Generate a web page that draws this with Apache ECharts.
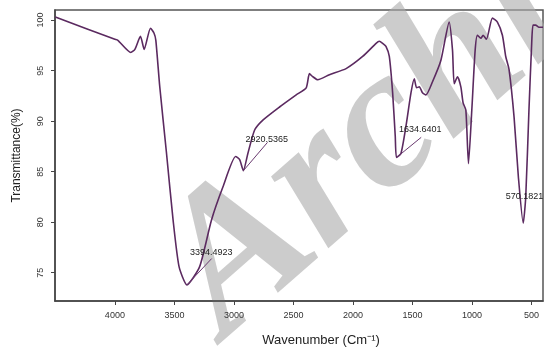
<!DOCTYPE html>
<html lang="en">

<head>
    <meta charset="UTF-8">
    <title>FTIR</title>
    <style>
        html, body { margin: 0; padding: 0; background: #fff; }
    </style>
</head>

<body>
    <div id="main" style="width: 544px; height:352px"></div>
    <script src="https://cdn.jsdelivr.net/npm/echarts@6/dist/echarts.min.js"></script>
    <script type="text/javascript">
        // spectrum: wavenumber (cm-1) / transmittance (%)
        var wavenumber = [4500, 4000, 3975, 3866, 3832, 3785, 3754, 3701, 3671, 3656, 3623, 3567, 3511, 3461,
            3394.4923, 3288, 3189, 3092, 2986, 2952, 2920.5365, 2883, 2827, 2757, 2617, 2477, 2393, 2366, 2338, 2296,
            2198, 2058, 1919, 1806, 1779, 1751, 1723, 1695, 1667, 1645, 1634.6401, 1597, 1555, 1513, 1485, 1466,
            1443, 1416, 1387, 1332, 1262, 1192, 1164, 1150, 1122, 1094, 1075, 1052, 1030, 1002, 974, 955, 926,
            907, 879, 829, 787, 745, 717, 689, 647, 611, 570.1821, 549, 522, 499, 488, 466, 438, 404];
        var transmittance = [100.3, 98.1, 98.0, 96.8, 97.1, 98.4, 97.1, 99.2, 98.7, 98.0, 93.4, 86.9, 80.2, 75.6,
            73.8, 75.6, 80.2, 83.5, 86.5, 86.2, 85.1, 86.8, 89.1, 90.1, 91.4, 92.6, 93.3, 94.7, 94.4, 94.1,
            94.6, 95.2, 96.4, 97.7, 97.9, 97.7, 97.4, 96.4, 92.8, 88.5, 86.4, 86.8, 89.5, 92.8, 94.2, 93.3,
            93.4, 92.8, 92.6, 93.9, 96.0, 99.8, 97.0, 93.7, 94.4, 93.4, 91.8, 91.1, 85.8, 91.1, 97.0, 98.5, 98.2,
            98.5, 98.1, 100.2, 99.8, 98.5, 96.4, 95.1, 90.4, 84.5, 79.9, 82.5, 91.1, 97.7, 99.5, 99.5, 99.3, 99.3];

        var xTicks = [4000, 3500, 3000, 2500, 2000, 1500, 1000, 500];
        var yTicks = [75, 80, 85, 90, 95, 100];

        // peak labels: peak point -> where the label sits
        var peakNames = ['3394.4923', '2920.5365', '1634.6401', '570.1821'];
        var peakX = [3394.4923, 2920.5365, 1634.6401, 570.1821];
        var peakY = [73.8, 85.1, 86.4, 79.9];
        var labelX = [3187, 2718, 1427, 545];
        var labelY = [76.4, 87.9, 88.4, 82.4];
        var labelTextX = [3190, 2724, 1435, 560];
        var labelTextY = [77.0, 88.2, 89.2, 82.5];

        var myChart = echarts.init(document.getElementById('main'));

        var seriesData = [];
        for (var i = 0; i < wavenumber.length; i++) {
            seriesData.push([wavenumber[i], transmittance[i]]);
        }

        var leaderLines = [];
        var labelPoints = [];
        for (var k = 0; k < peakNames.length; k++) {
            if (k < 3) {
                leaderLines.push([{ coord: [peakX[k], peakY[k]] }, { coord: [labelX[k], labelY[k]] }]);
            }
            labelPoints.push({ name: peakNames[k], coord: [labelTextX[k], labelTextY[k]] });
        }

        var axisColor = '#444';
        var labelFont = { color: '#333', fontSize: 9, fontFamily: 'Liberation Sans' };

        var option = {
            animation: false,
            backgroundColor: '#fff',
            grid: {
                left: 55,
                right: 1,
                top: 10,
                bottom: 51,
                show: true,
                borderColor: '#555',
                borderWidth: 1.5
            },
            graphic: [{
                type: 'text',
                x: 125,
                y: 225,
                rotation: 0.72,
                z: 0,
                style: {
                    text: 'Archive',
                    font: 'italic bold 200px "Liberation Serif"',
                    fill: 'rgba(170,170,170,0.6)'
                }
            }],
            xAxis: {
                type: 'value',
                inverse: true,
                min: 404,
                max: 4503,
                name: 'Wavenumber (Cm⁻¹)',
                nameLocation: 'middle',
                nameGap: 33,
                nameTextStyle: { color: '#222', fontSize: 13, fontFamily: 'Liberation Sans', padding: [0, 0, 0, 44] },
                splitLine: { show: false },
                axisLine: { onZero: false, lineStyle: { color: axisColor, width: 1.5 } },
                axisTick: { show: true, length: 4, customValues: xTicks, lineStyle: { color: axisColor } },
                axisLabel: Object.assign({
                    customValues: xTicks,
                    margin: 10,
                    formatter: function (v) { return String(v); }
                }, labelFont)
            },
            yAxis: {
                type: 'value',
                min: 72.2,
                max: 101,
                name: 'Transmittance(%)',
                nameLocation: 'middle',
                nameGap: 32,
                nameTextStyle: { color: '#222', fontSize: 12, fontFamily: 'Liberation Sans' },
                splitLine: { show: false },
                axisLine: { show: true, onZero: false, lineStyle: { color: axisColor, width: 1.5 } },
                axisTick: { show: true, length: 4, customValues: yTicks, lineStyle: { color: axisColor } },
                axisLabel: Object.assign({ customValues: yTicks, rotate: 90, margin: 10 }, labelFont)
            },
            series: [{
                type: 'line',
                data: seriesData,
                showSymbol: false,
                smooth: 0.2,
                z: 3,
                lineStyle: { color: '#5b2a60', width: 1.6 },
                markLine: {
                    silent: true,
                    symbol: 'none',
                    label: { show: false },
                    lineStyle: { color: '#6a3a70', width: 1, type: 'solid' },
                    data: leaderLines
                },
                markPoint: {
                    silent: true,
                    symbol: 'circle',
                    symbolSize: 0,
                    label: {
                        show: true,
                        position: 'inside',
                        formatter: '{b}',
                        color: '#222',
                        fontSize: 9,
                        fontFamily: 'Liberation Sans'
                    },
                    data: labelPoints
                }
            }]
        };
        myChart.setOption(option);
    </script>

</body>

</html>
